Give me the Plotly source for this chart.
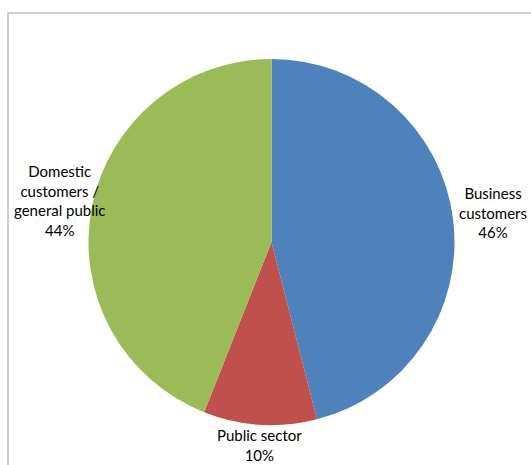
import plotly.graph_objects as go

# Customer segments and their shares (%)
segments = ["Business customers", "Public sector", "Domestic customers / general public"]
shares = [46, 10, 44]
colors = ["#4F81BD", "#C0504D", "#9BBB59"]

# Label text lines, broken as they appear beside each slice
label_lines = [["Business", "customers"], ["Public sector"], ["Domestic", "customers /", "general public"]]
# Label anchor positions in paper coordinates (x, y)
label_pos = [(0.928, 0.544), (0.488, 0.042), (0.113, 0.568)]

W, H = 531, 465

fig = go.Figure(
    go.Pie(
        labels=segments,
        values=shares,
        sort=False,
        direction="clockwise",
        rotation=0,
        marker=dict(colors=colors, line=dict(width=0)),
        textinfo="none",
        hoverinfo="label+percent",
        showlegend=False,
        domain=dict(x=[88 / W, 455 / W], y=[(H - 425) / H, (H - 59) / H]),
    )
)

total = sum(shares)
for lines, v, (x, y) in zip(label_lines, shares, label_pos):
    text = "<br>".join(lines + [f"{round(100 * v / total)}%"])
    fig.add_annotation(
        x=x, y=y, xref="paper", yref="paper",
        text=text, showarrow=False, align="center",
        xanchor="center", yanchor="middle",
        font=dict(family="Lato, Carlito, sans-serif", size=15, color="#000000"),
    )

# Chart area frame (left and top edges visible)
fig.add_shape(
    type="path", xref="paper", yref="paper",
    path=f"M {8 / W} 0 L {8 / W} {1 - 13 / H} L 1 {1 - 13 / H}",
    line=dict(color="#BFBFBF", width=1.5),
)

fig.update_layout(
    width=W, height=H,
    margin=dict(l=0, r=0, t=0, b=0),
    paper_bgcolor="white",
    plot_bgcolor="white",
)

fig.write_html("out.html")
